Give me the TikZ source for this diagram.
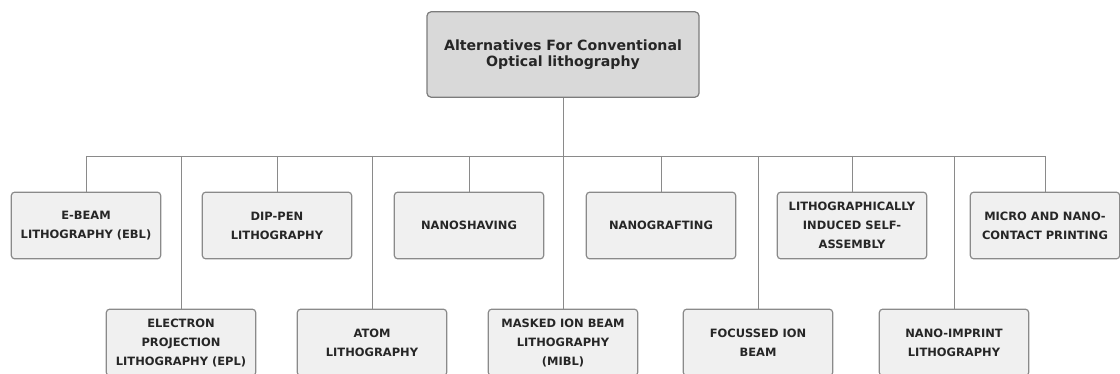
\documentclass[tikz,border=0pt]{standalone}
\usepackage{fontspec}
\setmainfont{DejaVu Sans}
\usepackage{tikz}
\usetikzlibrary{positioning}

\definecolor{boxfill}{HTML}{F0F0F0}
\definecolor{rootfill}{HTML}{D9D9D9}
\definecolor{edge}{HTML}{8A8A8A}

\tikzset{
    kid/.style={draw=edge, fill=boxfill, rounded corners=2.5pt, line width=0.9pt,
        minimum width=112pt, minimum height=50pt, align=center, inner sep=2pt,
        font=\bfseries\fontsize{8.6}{14.25}\selectfont, text=black!85},
    topbox/.style={draw=edge!90!black, fill=rootfill, rounded corners=3pt, line width=0.9pt,
        minimum width=204pt, minimum height=64pt, align=center,
        font=\bfseries\fontsize{10.6}{12}\selectfont, text=black!85},
    wire/.style={draw=edge, line width=0.6pt}
}

\begin{document}
\begin{tikzpicture}[x=0.75pt, y=-0.75pt]
    \clip (0, 0) rectangle (1120, 374);
    \useasboundingbox (0, 0) rectangle (1120, 374);

    \coordinate (bus) at (563, 156);

    \node[topbox] (root) at (563, 54.5) {Alternatives For Conventional\\Optical lithography};

    % upper row
    \node[kid] (ebl) at (86, 225.5) {E-BEAM\\LITHOGRAPHY (EBL)};
    \node[kid] (dip) at (277, 225.5) {DIP-PEN\\LITHOGRAPHY};
    \node[kid] (shave) at (469, 225.5) {NANOSHAVING};
    \node[kid] (graft) at (661, 225.5) {NANOGRAFTING};
    \node[kid] (lisa) at (852, 225.5) {LITHOGRAPHICALLY\\INDUCED SELF-\\ASSEMBLY};
    \node[kid] (mcp) at (1045, 225.5) {MICRO AND NANO-\\CONTACT PRINTING};

    % lower row
    \node[kid] (epl) at (181, 342.5) {ELECTRON\\PROJECTION\\LITHOGRAPHY (EPL)};
    \node[kid] (atom) at (372, 342.5) {ATOM\\LITHOGRAPHY};
    \node[kid] (mibl) at (563, 342.5) {MASKED ION BEAM\\LITHOGRAPHY\\(MIBL)};
    \node[kid] (fib) at (758, 342.5) {FOCUSSED ION\\BEAM};
    \node[kid] (nil) at (954, 342.5) {NANO-IMPRINT\\LITHOGRAPHY};

    \draw[wire] (root.south) -- (root.south |- bus);
    \draw[wire] (ebl.north |- bus) -- (mcp.north |- bus);
    \foreach \k in {ebl, dip, shave, graft, lisa, mcp, epl, atom, mibl, fib, nil}
        \draw[wire] (\k.north |- bus) -- (\k.north);
\end{tikzpicture}
\end{document}
